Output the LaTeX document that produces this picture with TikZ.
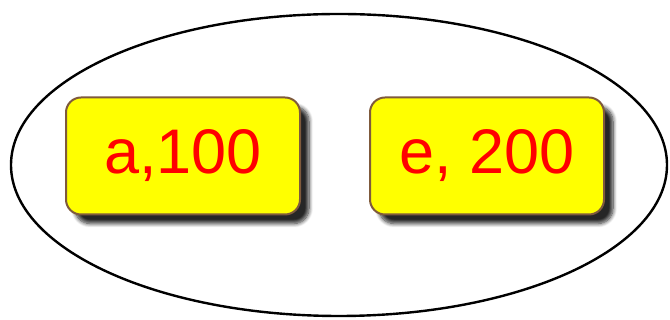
\documentclass[tikz,border=0pt]{standalone}
\usepackage{fontspec}
\setmainfont{Liberation Sans}
\usetikzlibrary{positioning,shapes.geometric,shadows.blur}
\definecolor{boxYellow}{HTML}{FFFF00}
\definecolor{boxBrown}{HTML}{7F5A3C}
\definecolor{valRed}{HTML}{FF0000}

\begin{document}
\begin{tikzpicture}[
  x=1pt, y=1pt,
  valbox/.style={rectangle, rounded corners=15pt, draw=boxBrown, line width=2pt, fill=boxYellow, minimum width=234pt, minimum height=117pt, inner sep=0pt, text=valRed, font=\fontsize{63}{63}\selectfont, blur shadow={shadow xshift=9pt, shadow yshift=-9pt, shadow blur radius=4pt, shadow blur steps=8, shadow opacity=85}},
  bag/.style={ellipse, draw=black, line width=2.4pt, minimum width=656pt, minimum height=302pt, inner sep=0pt}
]
\useasboundingbox (0,0) rectangle (670,320);
\node[bag] (set) at (339,155) {};
\node[valbox] (a100) at (183,164) {a,100};
\node[valbox, right=68pt of a100] (e200) {e, 200};
\end{tikzpicture}
\end{document}
